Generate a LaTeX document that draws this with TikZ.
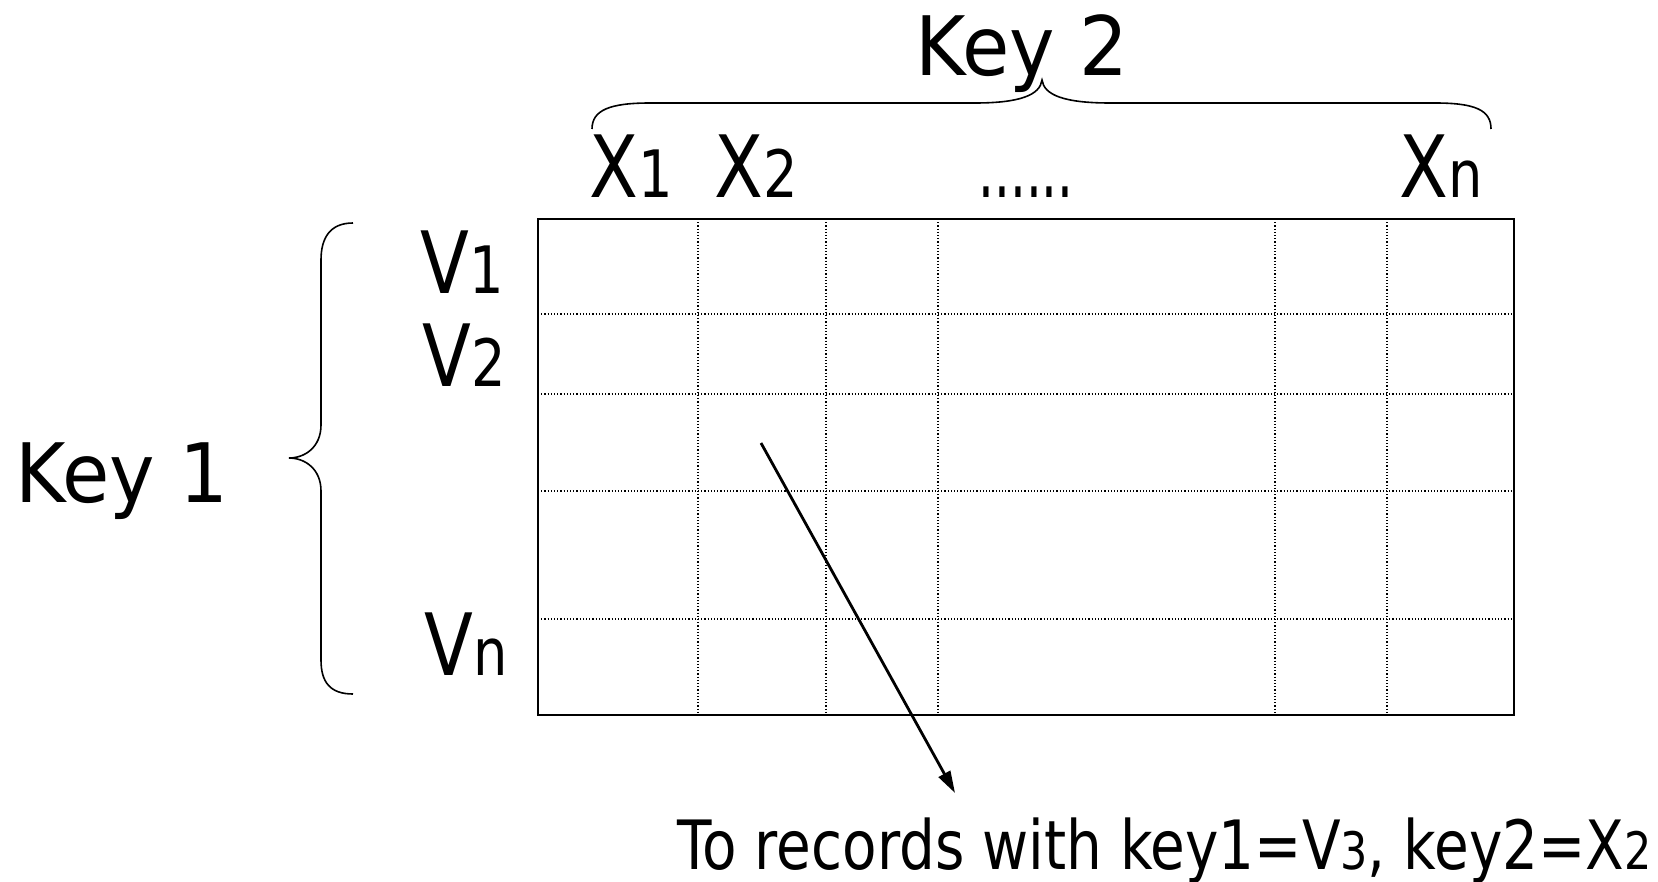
\documentclass[tikz,border=0pt]{standalone}
\usepackage{fontspec}
\usepackage{graphicx}
\setmainfont[FakeStretch=0.83]{DejaVu Sans}
\usetikzlibrary{arrows.meta}
\newcommand\sm[1]{\scalebox{0.76}{#1}}
\newcommand\wide[1]{\scalebox{1.13}[1]{#1}}
\begin{document}
\begin{tikzpicture}[x=0.5pt,y=-0.5pt,
  lbl/.style={anchor=base west, inner sep=0pt, font=\fontsize{43}{50}\selectfont},
  keylbl/.style={anchor=base west, inner sep=0pt, font=\fontsize{41}{48}\selectfont},
  note/.style={anchor=base west, inner sep=0pt, font=\fontsize{34}{40}\selectfont},
  gridline/.style={densely dotted, line width=0.6pt},
  frame/.style={line width=1pt},
  brace/.style={line width=0.8pt},
  ptr/.style={line width=1.4pt, -{Triangle[length=11pt,width=6.5pt]}}]
\useasboundingbox (0,0) rectangle (1658,882);
% grid
\foreach \yy in {314,394,491,619} \draw[gridline] (538,\yy) -- (1514,\yy);
\foreach \xx in {698,826,938,1275,1387} \draw[gridline] (\xx,219) -- (\xx,715);
\draw[frame] (538,219) rectangle (1514,715);
% labels
\node[keylbl] (key2) at (915,76) {\wide{Key 2}};
\node[keylbl] (key1) at (15,502) {\wide{Key 1}};
\node[lbl] (x1) at (589,198) {X\sm{1}};
\node[lbl] (x2) at (714,198) {X\sm{2}};
\node[lbl] (dots) at (978,198) {\scalebox{0.7}[1]{......}};
\node[lbl] (xn) at (1399,198) {X\sm{n}};
\node[lbl] (v1) at (420,293) {V\sm{1}};
\node[lbl] (v2) at (422,386) {V\sm{2}};
\node[lbl] (vn) at (424,675) {V\sm{n}};
\node[note] (txt) at (677,869) {To records with key1=V\sm{3}, key2=X\sm{2}};
% braces
\draw[brace] (592,129) .. controls (592,110) and (610,103) .. (650,103) -- (975,103)
  .. controls (1020,103) and (1040,95) .. (1042,80)
  .. controls (1044,95) and (1064,103) .. (1110,103) -- (1435,103)
  .. controls (1475,103) and (1491,110) .. (1491,129);
\draw[brace] (353,223) .. controls (330,223) and (321,238) .. (321,260) -- (321,425)
  .. controls (321,447) and (305,458) .. (289,458)
  .. controls (305,458) and (321,469) .. (321,491) -- (321,660)
  .. controls (321,682) and (330,694) .. (353,694);
% arrow
\coordinate (cell) at (761,443);
\coordinate (tip) at (955,793);
\draw[ptr] (cell) -- (tip);
\end{tikzpicture}
\end{document}
